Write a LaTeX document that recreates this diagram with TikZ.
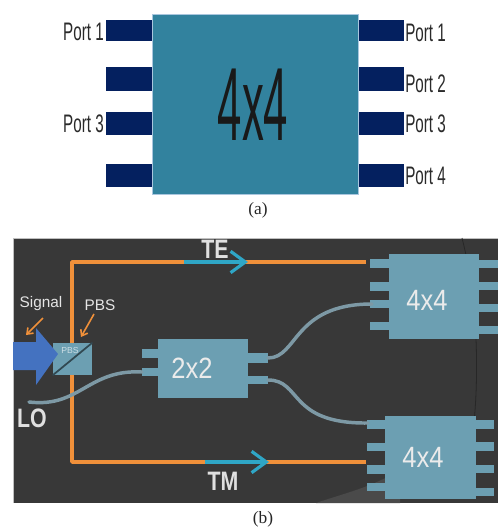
\documentclass[tikz,border=0pt]{standalone}
\usepackage{fontspec}
\setmainfont{Liberation Sans}
\newfontfamily\capfont{Liberation Serif}
\usetikzlibrary{arrows.meta}
\definecolor{panelbg}{HTML}{383838}
\definecolor{panelwedge}{HTML}{4A4A4A}
\definecolor{bodyA}{HTML}{32829E}
\definecolor{edgeA}{HTML}{A9C6DE}
\definecolor{portA}{HTML}{04205F}
\definecolor{portlbl}{HTML}{2A2A2A}
\definecolor{bodyB}{HTML}{6C9FB2}
\definecolor{fibre}{HTML}{7D99A5}
\definecolor{optline}{HTML}{F0903A}
\definecolor{cyanline}{HTML}{2FA6C6}
\definecolor{sigblue}{HTML}{4472C0}
\newcommand{\pxbox}[6]{%
  \pgfmathsetmacro{\cxx}{(#3+#5)/2}\pgfmathsetmacro{\cyy}{(#4+#6)/2}%
  \pgfmathsetmacro{\www}{(#5-#3)*0.75}\pgfmathsetmacro{\hhh}{(#6-#4)*0.75}%
  \node[#2,minimum width=\www pt,minimum height=\hhh pt] (#1) at (\cxx,\cyy) {};}
\newcommand{\portname}[1]{\scalebox{0.6}[1]{#1}}
\tikzset{
  x=0.75pt,y=-0.75pt,
  pxb/.style={inner sep=0pt,outer sep=0pt,rectangle},
  bodya/.style={pxb,fill=bodyA,draw=edgeA,line width=0.6pt},
  porta/.style={pxb,fill=portA},
  bodyb/.style={pxb,fill=bodyB},
  portb/.style={pxb,fill=bodyB},
  portlabel/.style={inner sep=0pt,text=portlbl,font=\fontsize{19}{21}\selectfont},
  fibreline/.style={draw=fibre,line width=2.6pt,line cap=round},
  optical/.style={draw=optline,line width=2.6pt,line join=round},
  cyanarrow/.style={draw=cyanline,line width=2.6pt,-{Straight Barb[length=11pt,width=16pt,line width=2.4pt]}},
  callout/.style={draw=optline,line width=1.2pt,-{Straight Barb[length=4pt,width=6pt]}},
  whitebold/.style={inner sep=0pt,text=white!88!black,font=\bfseries\fontsize{20}{22}\selectfont},
  whitesmall/.style={inner sep=0pt,text=white!90!black,font=\fontsize{11.5}{13}\selectfont},
  boxlabel/.style={inner sep=0pt,text=white!92!black,font=\fontsize{22}{24}\selectfont},
  caption/.style={inner sep=0pt,text=black!85,font=\capfont\fontsize{13}{15}\selectfont},
}
\begin{document}
\begin{tikzpicture}
\useasboundingbox (0,0) rectangle (498,530);
% ---------- (a)
\foreach \n/\a/\b in {1/20/41,2/67/91,3/112/135,4/164/187}{
  \pxbox{al\n}{porta}{106}{\a}{152}{\b}
  \pxbox{ar\n}{porta}{358}{\a}{404}{\b}
}
\pxbox{amain}{bodya}{152}{14}{358}{194}
\node[inner sep=0pt,text=black!90] (atext) at (253,105) {\scalebox{0.42}[1]{\fontsize{78}{80}\selectfont 4x4}};
\node[portlabel,anchor=east] (lp1) at (104,32) {\portname{Port 1}};
\node[portlabel,anchor=east] (lp3) at (104,124) {\portname{Port 3}};
\node[portlabel,anchor=west] (rp1) at (405,33) {\portname{Port 1}};
\node[portlabel,anchor=west] (rp2) at (405,84) {\portname{Port 2}};
\node[portlabel,anchor=west] (rp3) at (405,124) {\portname{Port 3}};
\node[portlabel,anchor=west] (rp4) at (405,176) {\portname{Port 4}};
\node[caption] (capa) at (258,210) {(a)};
% ---------- (b) panel
\fill[panelbg] (13,238) rectangle (498,503);
\draw[white!75!black,line width=0.5pt] (13,503) -- (13,238) -- (498,238);
\fill[panelwedge] (316,503) .. controls (345,493) and (370,488) .. (400,470) -- (400,503) -- cycle;
\draw[black!30!panelbg,line width=0.6pt] (462,238) .. controls (478,300) and (480,380) .. (472,440);
% blocks
\foreach \n/\a/\b/\c/\d in {1/259/268/260/268,2/282/291/282/290,3/300/308/304/312,4/322/330/326/334}{
  \pxbox{tl\n}{portb}{370}{\a}{389}{\b}
  \pxbox{tr\n}{portb}{479}{\c}{498}{\d}
}
\pxbox{tbox}{bodyb}{389}{254}{479}{339}
\foreach \n/\a/\b/\c/\d in {1/420/429/420/429,2/443/451/442/451,3/465/474/465/473,4/483/491/488/496}{
  \pxbox{bl\n}{portb}{367}{\a}{385}{\b}
  \pxbox{br\n}{portb}{476}{\c}{494}{\d}
}
\pxbox{bbox}{bodyb}{385}{416}{476}{499}
\pxbox{cl1}{portb}{142}{349}{158}{358}
\pxbox{cl2}{portb}{142}{368}{158}{376}
\pxbox{cr1}{portb}{248}{353}{268}{363}
\pxbox{cr2}{portb}{248}{376}{268}{384}
\pxbox{cbox}{bodyb}{158}{339}{248}{398}
\node[boxlabel] (ctext) at (192,368) {\scalebox{0.87}[1]{2x2}};
\node[boxlabel] (ttext) at (427,300) {\scalebox{0.87}[1]{4x4}};
\node[boxlabel] (btext) at (423,457) {\scalebox{0.87}[1]{4x4}};
% optical paths
\coordinate (teend) at (366,262);
\coordinate (tmend) at (366,462);
\coordinate (corna) at (72,262);
\coordinate (cornb) at (72,462);
\draw[optical] (teend) -- (corna) -- (cornb) -- (tmend);
\coordinate (tea) at (184,262); \coordinate (teb) at (248,262);
\coordinate (tma) at (205,462); \coordinate (tmb) at (269,462);
\draw[cyanarrow] (tea) -- (teb);
\draw[cyanarrow] (tma) -- (tmb);
% PBS
\pxbox{pbs}{bodyb}{53}{343}{92}{375}
\node[inner sep=0pt,text=white!65!bodyB,font=\fontsize{6.5}{7}\selectfont] (pbst) at (70,351) {PBS};
\coordinate (sa) at (53,375); \coordinate (sb) at (92,343);
\draw[black!35!bodyB!70!black,line width=1.3pt,line cap=round] (sa) -- (sb);
% signal arrow
\fill[sigblue] (13,342) -- (36,342) -- (36,328) -- (58,354) -- (36,385) -- (36,370) -- (13,370) -- cycle;
% fibres
\coordinate (lo) at (29,402);
\coordinate (fa) at (372,304);
\coordinate (fb) at (368,423);
\draw[fibreline] (lo) .. controls (80,408) and (88,369) .. (cl2.west);
\draw[fibreline] (cr1.east) .. controls (298,358) and (293,304) .. (fa);
\draw[fibreline] (cr2.east) .. controls (302,380) and (288,424) .. (fb);
% labels
\node[whitebold] (te) at (215,249) {\scalebox{0.8}[1]{TE}};
\node[whitebold] (tm) at (223,481) {\scalebox{0.8}[1]{TM}};
\node[whitebold] (lol) at (32,418) {\scalebox{0.8}[1]{LO}};
\node[whitesmall] (sig) at (41,304) {Signal};
\node[whitesmall] (pbl) at (100,305) {PBS};
\coordinate (sigt) at (26,335); \coordinate (pbt) at (81,337);
\draw[callout] (43,318) -- (sigt);
\draw[callout] (94,314) -- (pbt);
\node[caption] (capb) at (263,519) {(b)};
\end{tikzpicture}
\end{document}
